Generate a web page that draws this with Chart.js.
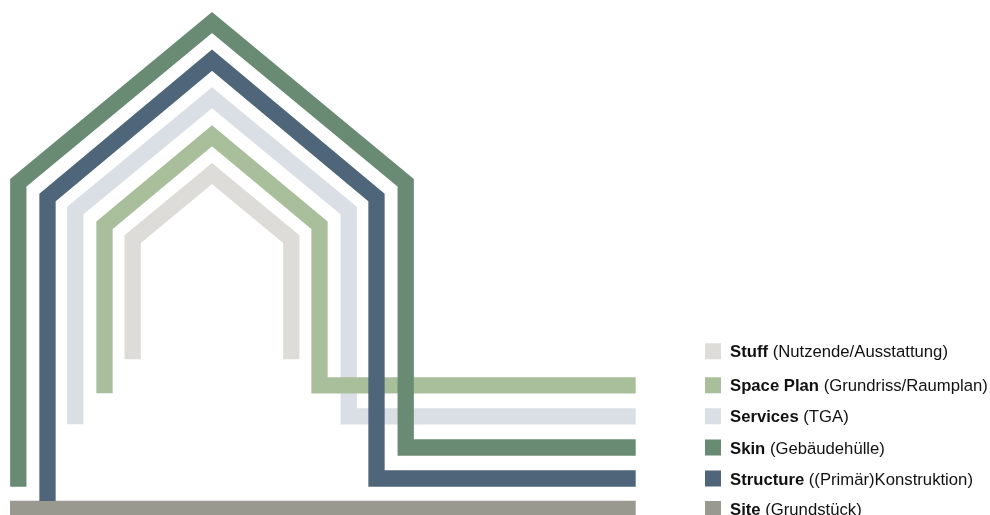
<!DOCTYPE html>
<html>
<head>
<meta charset="utf-8">
<script src="https://cdn.jsdelivr.net/npm/chart.js@4/dist/chart.umd.min.js"></script>
<style>
  html, body { margin: 0; padding: 0; background: #ffffff; }
  #wrap { position: relative; width: 990px; height: 515px; }
</style>
</head>
<body>
<div id="wrap"><canvas id="c"></canvas></div>
<script>
// Layer names (legend order) and German descriptions
const layerNames = ['Stuff', 'Space Plan', 'Services', 'Skin', 'Structure', 'Site'];
const layerNotes = ['(Nutzende/Ausstattung)', '(Grundriss/Raumplan)', '(TGA)', '(Gebäudehülle)', '((Primär)Konstruktion)', '(Grundstück)'];
const layerColors = ['#dddcd9', '#a9bf9b', '#dadfe5', '#698b74', '#4f6579', '#9a9990'];

// Outline vertices of each layer (diagram units)
const stuffX      = [132.7, 132.7, 212, 291.3, 291.3];
const stuffY      = [359.3, 239.2, 173.5, 239.2, 359.3];
const spacePlanX  = [104.5, 104.5, 212, 319.5, 319.5, 635.7];
const spacePlanY  = [393.3, 225.2, 135.8, 225.2, 385.3, 385.3];
const servicesX   = [75.3, 75.3, 212, 348.7, 348.7, 635.7];
const servicesY   = [424.3, 210.5, 97.8, 210.5, 416.3, 416.3];
const skinX       = [18.3, 18.3, 212, 405.7, 405.7, 635.7];
const skinY       = [486.7, 182.8, 22.5, 182.8, 447.5, 447.5];
const structureX  = [47.5, 47.5, 212, 376.5, 376.5, 635.7];
const structureY  = [501, 197.5, 60.2, 197.5, 478.5, 478.5];
const siteX       = [10, 635.7];
const siteY       = [509, 509];

const allX = [stuffX, spacePlanX, servicesX, skinX, structureX, siteX];
const allY = [stuffY, spacePlanY, servicesY, skinY, structureY, siteY];
// drawing order (lower = on top)
const drawOrder = [2, 3, 4, 1, 0, 5];

const datasets = layerNames.map((name, i) => ({
  label: name,
  data: allX[i].map((x, k) => ({ x: x, y: allY[i][k] })),
  borderColor: layerColors[i],
  backgroundColor: layerColors[i],
  borderWidth: 16.3,
  borderJoinStyle: 'miter',
  borderCapStyle: 'butt',
  showLine: true,
  fill: false,
  tension: 0,
  pointRadius: 0,
  pointHoverRadius: 0,
  order: drawOrder[i],
  clip: false
}));

const legendPlugin = {
  id: 'layerLegend',
  afterDraw(chart) {
    const ctx = chart.ctx;
    const rowY = [351.3, 385.3, 416.3, 447.5, 478.5, 509];
    ctx.save();
    ctx.textBaseline = 'alphabetic';
    layerNames.forEach((name, i) => {
      const cy = rowY[i];
      ctx.fillStyle = layerColors[i];
      ctx.fillRect(705, cy - 8, 16, 16);
      ctx.fillStyle = '#111111';
      ctx.font = 'bold 16.7px "Liberation Sans", Arial, sans-serif';
      ctx.fillText(name, 730, cy + 6);
      const w = ctx.measureText(name + ' ').width;
      ctx.font = '16.7px "Liberation Sans", Arial, sans-serif';
      ctx.fillText(layerNotes[i], 730 + w, cy + 6);
    });
    ctx.restore();
  }
};

new Chart(document.getElementById('c'), {
  type: 'scatter',
  data: { datasets: datasets },
  options: {
    responsive: true,
    maintainAspectRatio: false,
    animation: false,
    layout: { padding: 0 },
    plugins: { legend: { display: false }, tooltip: { enabled: false } },
    events: [],
    scales: {
      x: { type: 'linear', min: 0, max: 990, display: false },
      y: { type: 'linear', min: 0, max: 515, reverse: true, display: false }
    }
  },
  plugins: [legendPlugin]
});
</script>
</body>
</html>
